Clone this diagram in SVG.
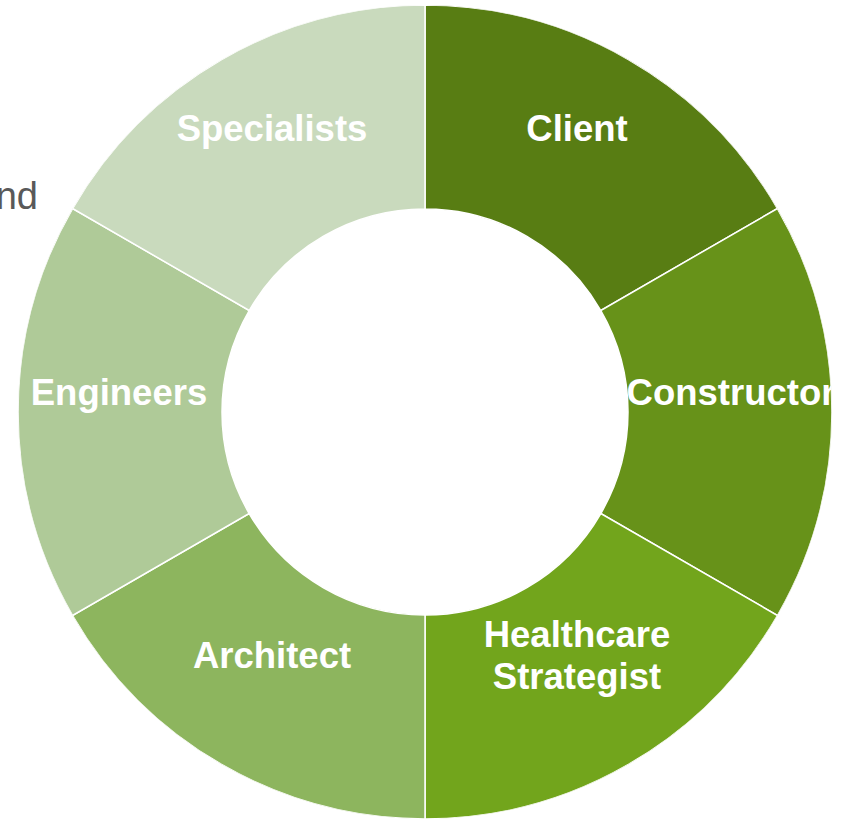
<svg xmlns="http://www.w3.org/2000/svg" width="843" height="820" viewBox="0 0 843 820">
  <defs>
    <style>
      .seg { stroke: #ffffff; stroke-width: 1.5; }
      .lbl { font-family: "Liberation Sans", Arial, sans-serif; font-weight: bold; font-size: 36.5px; fill: #ffffff; text-anchor: middle; }
      .side { font-family: "Liberation Sans", Arial, sans-serif; font-size: 38px; fill: #595959; }
    </style>
    <clipPath id="ring">
      <path d="M425,5 A407,407 0 1 1 424.99,5 Z"/>
    </clipPath>
  </defs>
  <rect width="843" height="820" fill="#ffffff"/>
  <text class="side" x="38" y="209" text-anchor="end">nd</text>
  <g id="connectors"></g>
  <g clip-path="url(#ring)">
    <g id="client">
      <path class="seg" fill="#587d13" d="M425,5 A407,407 0 0 1 777.47,208.5 L600.80,310.5 A203,203 0 0 0 425,209 Z"/>
      <text class="lbl" x="577" y="141">Client</text>
    </g>
    <g id="constructor">
      <path class="seg" fill="#679219" d="M777.47,208.5 A407,407 0 0 1 777.47,615.5 L600.80,513.5 A203,203 0 0 0 600.80,310.5 Z"/>
      <text class="lbl" x="731" y="405">Constructor</text>
    </g>
    <g id="healthcare">
      <path class="seg" fill="#72a51c" d="M777.47,615.5 A407,407 0 0 1 425,819 L425,615 A203,203 0 0 0 600.80,513.5 Z"/>
      <text class="lbl" x="577" y="647">Healthcare</text>
      <text class="lbl" x="577" y="689">Strategist</text>
    </g>
    <g id="architect">
      <path class="seg" fill="#8db55e" d="M425,819 A407,407 0 0 1 72.53,615.5 L249.20,513.5 A203,203 0 0 0 425,615 Z"/>
      <text class="lbl" x="272" y="668">Architect</text>
    </g>
    <g id="engineers">
      <path class="seg" fill="#afca98" d="M72.53,615.5 A407,407 0 0 1 72.53,208.5 L249.20,310.5 A203,203 0 0 0 249.20,513.5 Z"/>
      <text class="lbl" x="119" y="405">Engineers</text>
    </g>
    <g id="specialists">
      <path class="seg" fill="#c9dabd" d="M72.53,208.5 A407,407 0 0 1 425,5 L425,209 A203,203 0 0 0 249.20,310.5 Z"/>
      <text class="lbl" x="272" y="141">Specialists</text>
    </g>
  </g>
</svg>
